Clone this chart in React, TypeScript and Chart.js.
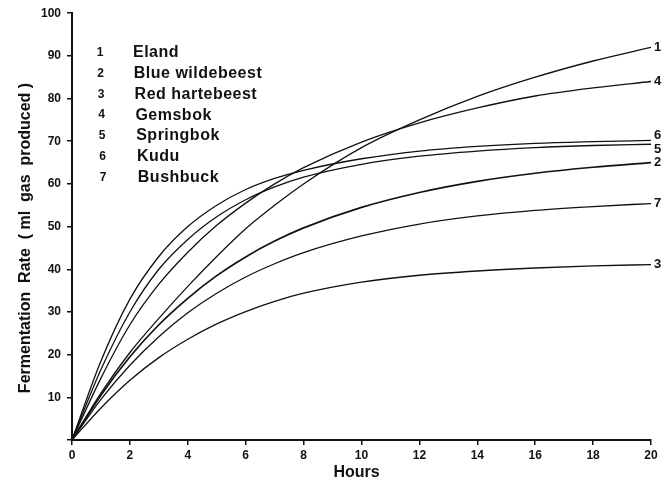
import React, { useEffect, useRef } from "react";
import { Chart, registerables } from "chart.js";

Chart.register(...registerables);

// Hours at which each curve is read
const hours = [0, 1, 2, 3, 4, 5, 6, 7, 8, 10, 12, 14, 16, 18, 20];

// Fermentation rate (ml gas produced) per species
const eland = [0, 11, 20.5, 28.5, 36, 43, 49.5, 55, 60, 68.5, 75, 80.5, 85, 88.8, 92];
const blueWildebeest = [0, 10.5, 19.5, 27, 33.2, 38.5, 42.9, 46.6, 49.7, 54.5, 58, 60.6, 62.5, 63.9, 65];
const redHartebeest = [0, 7.5, 14, 19.3, 23.6, 27.2, 30.1, 32.5, 34.4, 37, 38.6, 39.6, 40.3, 40.8, 41.1];
const gemsbok = [0, 14.5, 27, 36.5, 44, 50.3, 55.5, 60, 63.8, 69.8, 74.3, 77.8, 80.6, 82.5, 84];
const springbok = [0, 16.5, 30, 40, 47, 52.3, 56.3, 59.3, 61.6, 64.6, 66.5, 67.7, 68.5, 69, 69.3];
const kudu = [0, 18.5, 33, 43, 50, 55, 58.7, 61.3, 63.2, 65.9, 67.7, 68.8, 69.5, 69.9, 70.2];
const bushbuck = [0, 9.5, 17.5, 24.2, 29.8, 34.4, 38.2, 41.3, 43.9, 47.8, 50.6, 52.5, 53.8, 54.7, 55.4];

const speciesNumbers = ["1", "2", "3", "4", "5", "6", "7"];
const speciesNames = ["Eland", "Blue wildebeest", "Red hartebeest", "Gemsbok", "Springbok", "Kudu", "Bushbuck"];
const seriesValues = [eland, blueWildebeest, redHartebeest, gemsbok, springbok, kudu, bushbuck];

const yTitle = "Fermentation  Rate  ( ml  gas  produced )";
const xTitle = "Hours";

const FONT = "'Liberation Sans', Arial, Helvetica, sans-serif";

const annotationPlugin = {
  id: "annotations",
  afterDraw(chart: any) {
    const ctx = chart.ctx as CanvasRenderingContext2D;
    const area = chart.chartArea;
    ctx.save();
    ctx.fillStyle = "#111";

    // Y axis title
    ctx.save();
    ctx.font = `bold 16px ${FONT}`;
    ctx.textAlign = "center";
    ctx.textBaseline = "middle";
    ctx.translate(26, 238);
    ctx.rotate(-Math.PI / 2);
    ctx.fillText(yTitle, 0, 0);
    ctx.restore();

    // X axis title
    ctx.font = `bold 16px ${FONT}`;
    ctx.textAlign = "center";
    ctx.textBaseline = "middle";
    ctx.fillText(xTitle, (area.left + area.right) / 2 - 5, 473);

    // Legend block
    for (let i = 0; i < speciesNames.length; i++) {
      const y = 53 + i * 20.7;
      ctx.font = `bold 12px ${FONT}`;
      ctx.textAlign = "center";
      (ctx as any).letterSpacing = "0px";
      ctx.fillText(speciesNumbers[i], 100 + i * 0.5, y);
      ctx.font = `bold 16px ${FONT}`;
      ctx.textAlign = "left";
      (ctx as any).letterSpacing = "0.5px";
      ctx.fillText(speciesNames[i], 133 + i * 0.8, y);
    }
    (ctx as any).letterSpacing = "0px";

    // Curve end labels
    ctx.font = `bold 13px ${FONT}`;
    ctx.textAlign = "left";
    ctx.textBaseline = "middle";
    chart.data.datasets.forEach((ds: any, i: number) => {
      const meta = chart.getDatasetMeta(i);
      const pt = meta.data[meta.data.length - 1];
      if (!pt) return;
      let dy = 0;
      if (i === 5) dy = -5;
      if (i === 4) dy = 5;
      ctx.fillText(speciesNumbers[i], pt.x + 3, pt.y + dy);
    });

    ctx.restore();
  },
};

export default function App() {
  const canvasRef = useRef<HTMLCanvasElement | null>(null);

  useEffect(() => {
    const canvas = canvasRef.current;
    if (!canvas) return;
    const datasets = seriesValues.map((vals, i) => ({
      label: speciesNames[i],
      data: hours.map((h, j) => ({ x: h, y: vals[j] })),
      borderColor: "#111",
      borderWidth: i === 1 ? 1.7 : 1.3,
      pointRadius: 0,
      fill: false,
      cubicInterpolationMode: "monotone" as const,
    }));

    const chart = new Chart(canvas, {
      type: "line",
      data: { datasets },
      options: {
        responsive: false,
        animation: false,
        devicePixelRatio: 1,
        layout: { padding: { left: 0, right: 16, top: 12, bottom: 0 } },
        plugins: {
          legend: { display: false },
          tooltip: { enabled: false },
        },
        scales: {
          x: {
            type: "linear",
            min: 0,
            max: 20,
            afterFit: (s: any) => {
              s.height = 44;
            },
            border: { display: true, color: "#111", width: 2 },
            grid: {
              drawOnChartArea: false,
              drawTicks: true,
              tickLength: 5,
              color: "#111",
              lineWidth: 1.5,
            },
            ticks: {
              stepSize: 2,
              color: "#111",
              padding: 3,
              font: { family: FONT, size: 12, weight: "bold" },
            },
          },
          y: {
            type: "linear",
            min: 0,
            max: 100,
            afterFit: (s: any) => {
              s.width = 72;
            },
            border: { display: true, color: "#111", width: 2 },
            grid: {
              drawOnChartArea: false,
              drawTicks: true,
              tickLength: 5,
              color: "#111",
              lineWidth: 1.5,
            },
            ticks: {
              stepSize: 10,
              color: "#111",
              padding: 6,
              font: { family: FONT, size: 12, weight: "bold" },
              callback: (v: any) => (v === 0 ? "" : String(v)),
            },
          },
        },
      },
      plugins: [annotationPlugin],
    });

    return () => {
      chart.destroy();
    };
  }, []);

  return (
    <div style={{ position: "fixed", left: 0, top: 0, width: 667, height: 484, background: "#fff" }}>
      <canvas ref={canvasRef} width={667} height={484} style={{ display: "block", width: 667, height: 484 }} />
    </div>
  );
}
